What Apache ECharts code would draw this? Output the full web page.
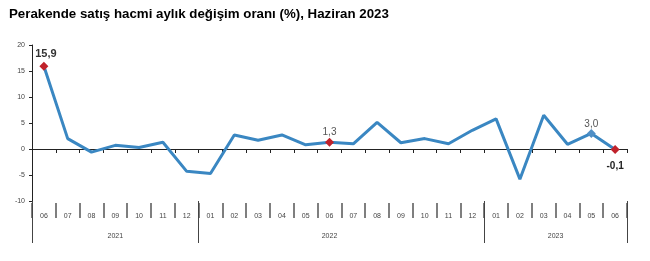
<!DOCTYPE html>
<html>
<head>
<meta charset="utf-8">
<script src="https://cdn.jsdelivr.net/npm/echarts@6/dist/echarts.min.js"></script>
<style>
  html, body { margin: 0; padding: 0; background: #fff; }
  #chart { width: 650px; height: 261px; }
</style>
</head>
<body>
<div id="chart"></div>
<script>
  // aylar (2021-06 .. 2023-06)
  const months = ['06', '07', '08', '09', '10', '11', '12',
    '01', '02', '03', '04', '05', '06', '07', '08', '09', '10', '11', '12',
    '01', '02', '03', '04', '05', '06']
  // aylık değişim oranı (%)
  const values = [15.9, 2.0, -0.6, 0.7, 0.3, 1.3, -4.3,
    -4.7, 2.7, 1.7, 2.7, 0.8, 1.3, 1.0, 5.1, 1.2, 2.0, 1.0, 3.6,
    5.8, -5.8, 6.5, 0.9, 3.0, -0.1]
  // yıl ekseni: yarım ay adımlı 51 nokta
  const yearLabels = { 7: '2021', 25: '2022', 44: '2023' }
  const yearTicks = [0, 14, 38, 50]
  const redIdx = [0, 12, 24]
  const blueIdx = [23]

  const halfSteps = []
  for (let k = 0; k <= 50; k++) halfSteps.push(yearLabels[k] || '')

  const chart = echarts.init(document.getElementById('chart'))

  const seriesData = values.map((v, i) => {
    const item = { value: v }
    if (redIdx.indexOf(i) >= 0 || blueIdx.indexOf(i) >= 0) {
      item.symbol = 'diamond'
      item.symbolSize = 9
      item.itemStyle = { color: redIdx.indexOf(i) >= 0 ? '#c0222b' : '#4f8fc6' }
      item.label = { show: true, distance: 0, formatter: v.toFixed(1).replace('.', ',') }
    }
    return item
  })
  // etiket konumları
  seriesData[0].label.fontSize = 11
  seriesData[0].label.fontWeight = 'bold'
  seriesData[0].label.color = '#333'
  seriesData[0].label.offset = [2, -2]
  seriesData[24].label.position = 'bottom'
  seriesData[24].label.offset = [0, 7]
  seriesData[24].label.color = '#222'
  seriesData[24].label.fontWeight = 'bold'

  const option = {
    animation: false,
    title: {
      text: 'Perakende satış hacmi aylık değişim oranı (%), Haziran 2023',
      left: 4,
      top: 3,
      textStyle: {
        fontFamily: 'Liberation Sans',
        fontSize: 13.3,
        fontWeight: 'bold',
        color: '#000'
      }
    },
    grid: {
      left: 32,
      right: 23,
      top: 45,
      bottom: 60,
      containLabel: false
    },
    xAxis: [
      {
        type: 'category',
        data: months,
        boundaryGap: true,
        axisLine: { onZero: true, lineStyle: { color: '#222', width: 1 } },
        axisTick: { show: true, length: 4, lineStyle: { color: '#222' } },
        axisLabel: { show: false }
      },
      {
        type: 'category',
        data: months,
        boundaryGap: true,
        position: 'bottom',
        offset: 2,
        axisLine: { show: false, onZero: false },
        axisTick: { show: true, length: 15, lineStyle: { color: '#555', width: 1.5 } },
        axisLabel: {
          show: true,
          interval: 0,
          margin: 10,
          fontSize: 7,
          color: '#444',
          fontFamily: 'Liberation Sans'
        }
      },
      {
        type: 'category',
        data: halfSteps,
        boundaryGap: false,
        position: 'bottom',
        offset: 0,
        axisLine: { show: false, onZero: false },
        axisTick: {
          show: true,
          length: 42,
          interval: (i) => yearTicks.indexOf(i) >= 0,
          lineStyle: { color: '#444', width: 1 }
        },
        axisLabel: {
          show: true,
          interval: (i) => !!yearLabels[i],
          margin: 32,
          fontSize: 7,
          color: '#444',
          fontFamily: 'Liberation Sans'
        }
      }
    ],
    yAxis: {
      type: 'value',
      min: -10,
      max: 20,
      interval: 5,
      axisLine: { show: true, lineStyle: { color: '#222' } },
      axisTick: { show: true, length: 3, lineStyle: { color: '#222' } },
      axisLabel: { fontSize: 7, color: '#444', margin: 7, fontFamily: 'Liberation Sans' },
      splitLine: { show: false }
    },
    series: [
      {
        type: 'line',
        xAxisIndex: 0,
        data: seriesData,
        symbol: 'none',
        showAllSymbol: true,
        lineStyle: { color: '#3a87c2', width: 3 },
        itemStyle: { color: '#3a87c2' },
        label: {
          show: false,
          position: 'top',
          fontSize: 10,
          color: '#555',
          fontFamily: 'Liberation Sans'
        }
      }
    ]
  }

  chart.setOption(option)
  window.addEventListener('resize', function () {
    chart.resize()
  })
</script>
</body>
</html>
